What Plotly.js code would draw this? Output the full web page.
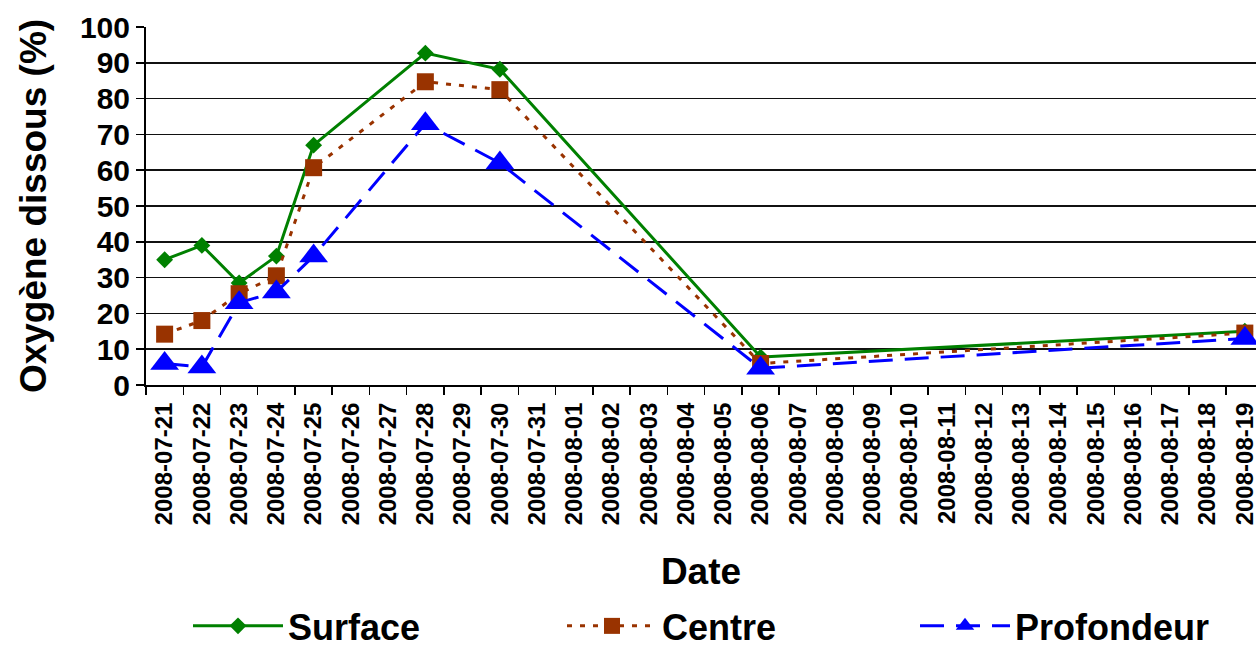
<!DOCTYPE html>
<html>
<head>
<meta charset="utf-8">
<script src="https://cdn.plot.ly/plotly-3.0.1.min.js"></script>
<style>html,body{margin:0;padding:0;background:#fff;}#chart{width:1256px;height:646px;}</style>
</head>
<body>
<div id="chart"></div>
<script>
// All category dates on the axis
const allDates = [
  "2008-07-21","2008-07-22","2008-07-23","2008-07-24","2008-07-25","2008-07-26",
  "2008-07-27","2008-07-28","2008-07-29","2008-07-30","2008-07-31","2008-08-01",
  "2008-08-02","2008-08-03","2008-08-04","2008-08-05","2008-08-06","2008-08-07",
  "2008-08-08","2008-08-09","2008-08-10","2008-08-11","2008-08-12","2008-08-13",
  "2008-08-14","2008-08-15","2008-08-16","2008-08-17","2008-08-18","2008-08-19"
];
// Sampling dates
const sampleDates = ["2008-07-21","2008-07-22","2008-07-23","2008-07-24","2008-07-25","2008-07-28","2008-07-30","2008-08-06","2008-08-19"];
const surface    = [35, 39, 28.5, 36, 67, 92.7, 88.2, 7.8, 15];
const centre     = [14.2, 18, 25.5, 30.5, 60.7, 84.7, 82.5, 6, 14.5];
const profondeur = [6, 5, 23, 26, 36, 73, 62, 4.7, 13];
const seriesNames = ["Surface", "Centre", "Profondeur"];

const traces = [
  {x: sampleDates, y: surface, name: seriesNames[0], legend: "legend", type: "scatter", mode: "lines+markers",
   line: {color: "#008000", width: 3}, marker: {symbol: "diamond", size: 13, color: "#008000"}},
  {x: sampleDates, y: centre, name: seriesNames[1], legend: "legend2", type: "scatter", mode: "lines+markers",
   line: {color: "#993300", width: 3, dash: "5px,8px"}, marker: {symbol: "square", size: 17, color: "#993300"}},
  {x: sampleDates, y: profondeur, name: seriesNames[2], legend: "legend3", type: "scatter", mode: "lines+markers",
   line: {color: "#0000FF", width: 3, dash: "24px,12px"}, marker: {symbol: "triangle-up", size: 25, color: "#0000FF"}}
];

const font = "Liberation Sans, Arial, sans-serif";
function leg(xpx) {
  return {
    orientation: "h", xref: "container", yref: "container",
    x: xpx / 1256, y: 0.031, xanchor: "left", yanchor: "middle",
    font: {family: font, size: 36, weight: "bold", color: "#000"},
    bgcolor: "rgba(0,0,0,0)", itemwidth: 90, borderwidth: 0
  };
}
const layout = {
  width: 1256, height: 646,
  margin: {l: 146, r: 0, t: 27, b: 261},
  paper_bgcolor: "#fff", plot_bgcolor: "#fff",
  showlegend: true,
  font: {family: font, color: "#000"},
  xaxis: {
    type: "category", categoryorder: "array", categoryarray: allDates,
    range: [-0.5, 29.3],
    tickmode: "array", tickvals: allDates, ticktext: allDates,
    tickson: "boundaries", ticks: "outside", ticklen: 8, tickwidth: 1.5, tickcolor: "#000",
    tickangle: -90, tickfont: {family: font, size: 24, weight: "bold", color: "#000"},
    ticklabelstandoff: 6,
    showgrid: false, showline: true, linecolor: "#000", linewidth: 2, zeroline: false,
    title: {text: "<b>Date</b>", font: {family: font, size: 37, color: "#000"}, standoff: 34}
  },
  yaxis: {
    range: [0, 100], tickmode: "linear", dtick: 10, tick0: 0,
    ticks: "outside", ticklen: 8, tickwidth: 1.5, tickcolor: "#000",
    tickfont: {family: font, size: 30, weight: "bold", color: "#000"},
    showgrid: true, gridcolor: "#111", gridwidth: 1.5,
    showline: true, linecolor: "#000", linewidth: 2, zeroline: false,
    title: {text: "<b>Oxygène dissous (%)</b>", font: {family: font, size: 37, color: "#000"}, standoff: 22}
  },
  legend: leg(188),
  legend2: leg(562),
  legend3: leg(915)
};

Plotly.newPlot("chart", traces, layout, {displayModeBar: false, staticPlot: true});
</script>
</body>
</html>
